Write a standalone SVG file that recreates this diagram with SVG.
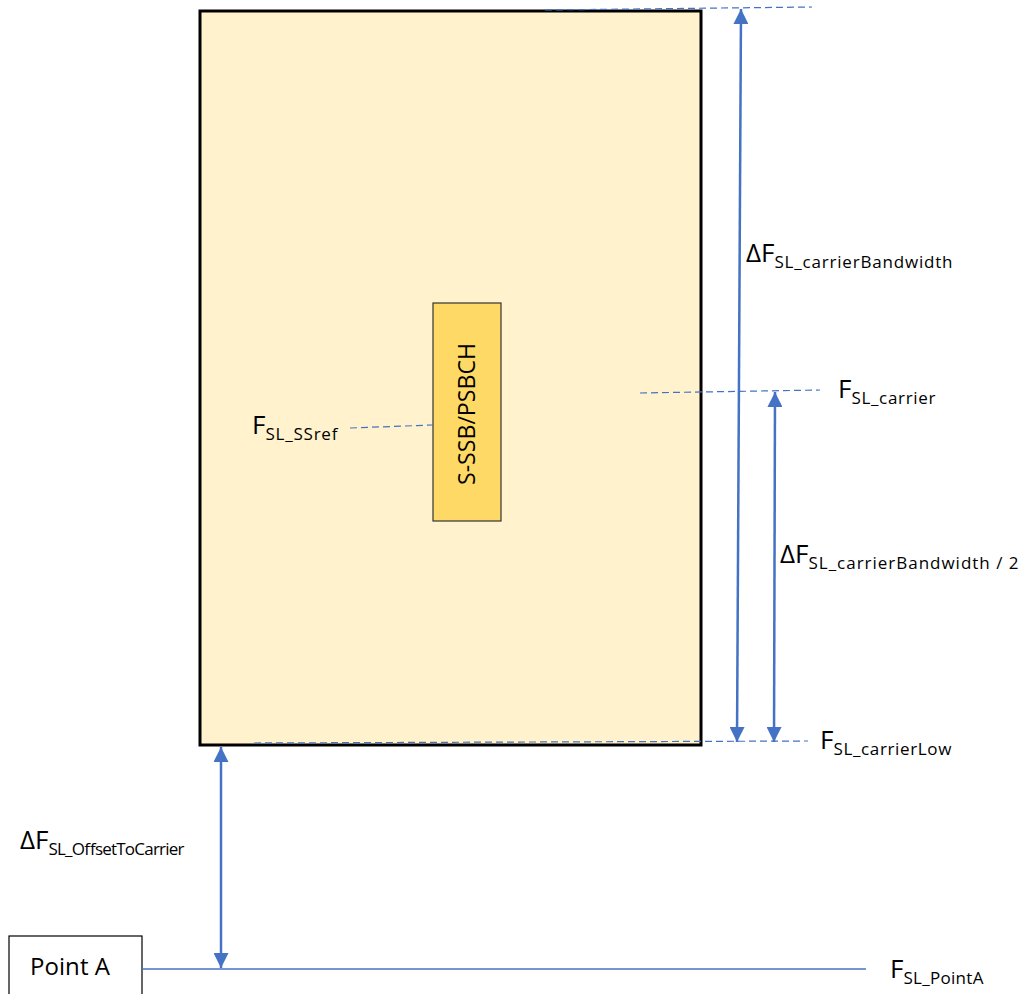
<svg xmlns="http://www.w3.org/2000/svg" width="1026" height="994" viewBox="0 0 1026 994">
<style>
.lbl{font-family:"Open Sans","Liberation Sans",sans-serif;fill:#000}
.big{font-size:26px}
.sub{font-size:17px}
.dash{stroke:#4472C4;stroke-width:1.2;stroke-dasharray:7 4;fill:none}
.arr{stroke:#4472C4;stroke-width:2.5;fill:none}
</style>
<defs>
<marker id="ah" viewBox="0 0 10 10" refX="10" refY="5" markerWidth="6" markerHeight="6" orient="auto-start-reverse" markerUnits="strokeWidth">
<path d="M0,0 L10,5 L0,10 z" fill="#4472C4"/>
</marker>
</defs>
<g id="carrier">
<rect x="200" y="11" width="501" height="734" fill="#FFF2CC" stroke="#000" stroke-width="3"/>
</g>
<g id="ssb">
<rect x="433" y="303" width="68" height="218" fill="#FFD966" stroke="#333" stroke-width="1.2"/>
<text class="lbl" font-size="23.5" transform="translate(475,414) rotate(-90)" text-anchor="middle" textLength="142" lengthAdjust="spacingAndGlyphs">S-SSB/PSBCH</text>
</g>
<g id="pointA">
<rect x="9" y="936" width="133" height="62" fill="#fff" stroke="#000" stroke-width="1.2"/>
<text class="lbl" font-size="24" x="30" y="975" textLength="80">Point A</text>
</g>
<g id="connectors">
<line class="dash" x1="545" y1="10" x2="812" y2="7"/>
<line class="dash" x1="640" y1="393" x2="820" y2="390"/>
<line class="dash" x1="350" y1="428" x2="433" y2="425"/>
<line class="dash" x1="254" y1="743" x2="808" y2="741"/>
<line class="arr" x1="741" y1="9" x2="737" y2="742" marker-start="url(#ah)" marker-end="url(#ah)"/>
<line class="arr" x1="775" y1="392" x2="774" y2="742" marker-start="url(#ah)" marker-end="url(#ah)"/>
<line class="arr" x1="221" y1="747" x2="221" y2="968" marker-start="url(#ah)" marker-end="url(#ah)"/>
<line stroke="#4472C4" stroke-width="1.5" x1="142" y1="969" x2="866" y2="969"/>
</g>
<g id="labels">
<text class="lbl big" x="746" y="262">ΔF<tspan class="sub" dy="6" textLength="178">SL_carrierBandwidth</tspan></text>
<text class="lbl big" x="780" y="563">ΔF<tspan class="sub" dy="6" textLength="210">SL_carrierBandwidth / 2</tspan></text>
<text class="lbl big" x="838" y="398">F<tspan class="sub" dy="6" textLength="84">SL_carrier</tspan></text>
<text class="lbl big" x="820" y="749">F<tspan class="sub" dy="6" textLength="118">SL_carrierLow</tspan></text>
<text class="lbl big" x="252" y="434">F<tspan class="sub" dy="6" textLength="72">SL_SSref</tspan></text>
<text class="lbl big" x="20" y="849">ΔF<tspan class="sub" dy="6" textLength="136">SL_OffsetToCarrier</tspan></text>
<text class="lbl big" x="890" y="978">F<tspan class="sub" dy="6" textLength="80">SL_PointA</tspan></text>
</g>
</svg>
